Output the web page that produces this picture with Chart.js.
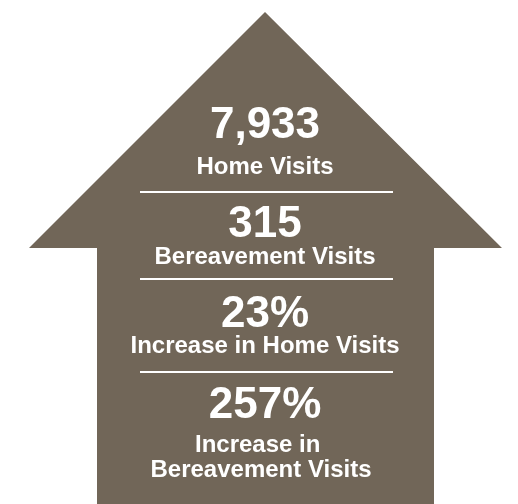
<!DOCTYPE html>
<html>
<head>
<meta charset="utf-8">
<script src="https://cdn.jsdelivr.net/npm/chart.js@4"></script>
<style>
  html, body { margin: 0; padding: 0; background: #fff; }
  canvas { display: block; }
</style>
</head>
<body>
<canvas id="house" width="518" height="504"></canvas>
<script>
// stats shown inside the house
const statValues = ['7,933', '315', '23%', '257%'];
const statLabels = [
    ['Home Visits'],
    ['Bereavement Visits'],
    ['Increase in Home Visits'],
    ['Increase in ', 'Bereavement Visits']
];

// outline of the arrow / house, in chart units
const houseX = [265, 502, 434, 434, 97, 97, 29, 265];
const houseY = [12, 248, 248, 504, 504, 248, 248, 12];

let housePoints = houseX.map((x, i) => ({ x: x, y: houseY[i] }));

// where each block sits (value baseline, label baselines, block centre)
const blocks = [
    { valueY: 138, labelY: [174], cx: 265 },
    { valueY: 237, labelY: [264], cx: 265 },
    { valueY: 327, labelY: [353], cx: 265 },
    { valueY: 418, labelY: [452, 477], cx: 261 }
];
const dividers = [192, 279, 372];

const textPlugin = {
    id: 'houseText',
    afterDatasetsDraw(chart) {
        const ctx = chart.ctx;
        const xs = chart.scales.x;
        const ys = chart.scales.y;
        ctx.save();
        ctx.fillStyle = '#ffffff';
        ctx.strokeStyle = '#ffffff';
        ctx.textAlign = 'center';
        ctx.textBaseline = 'alphabetic';

        statValues.forEach((val, i) => {
            let b = blocks[i];
            ctx.font = 'bold 44px "Liberation Sans", Arial, sans-serif';
            ctx.fillText(val, xs.getPixelForValue(265), ys.getPixelForValue(b.valueY));
            ctx.font = 'bold 24px "Liberation Sans", Arial, sans-serif';
            statLabels[i].forEach((line, j) => {
                ctx.fillText(line, xs.getPixelForValue(b.cx), ys.getPixelForValue(b.labelY[j]));
            });
        });

        ctx.lineWidth = 2;
        dividers.forEach(d => {
            let py = ys.getPixelForValue(d);
            ctx.beginPath();
            ctx.moveTo(xs.getPixelForValue(140), py);
            ctx.lineTo(xs.getPixelForValue(393), py);
            ctx.stroke();
        });
        ctx.restore();
    }
};

const ctx = document.getElementById('house').getContext('2d');
let houseChart = new Chart(ctx, {
    type: 'scatter',
    data: {
        datasets: [{
            label: 'house',
            data: housePoints,
            showLine: true,
            fill: 'shape',
            backgroundColor: '#716658',
            borderColor: '#716658',
            borderWidth: 0,
            pointRadius: 0,
            tension: 0
        }]
    },
    options: {
        responsive: false,
        animation: false,
        devicePixelRatio: 1,
        layout: { padding: 0 },
        plugins: {
            legend: { display: false },
            tooltip: { enabled: false }
        },
        scales: {
            x: { type: 'linear', min: 0, max: 518, display: false },
            y: { type: 'linear', min: 0, max: 504, reverse: true, display: false }
        }
    },
    plugins: [textPlugin]
});
</script>
</body>
</html>
